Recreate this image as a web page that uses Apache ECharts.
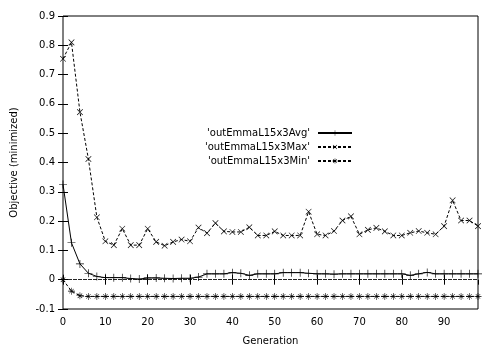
<!DOCTYPE html>
<html>
<head>
<meta charset="utf-8">
<script src="https://cdn.jsdelivr.net/npm/echarts@6/dist/echarts.min.js"></script>
<style>
  html, body { margin: 0; padding: 0; background: #fff; }
</style>
</head>
<body>
<div id="chartID" style="width: 501px;height:351px"></div>
<script>
// generations 0,2,...,98
const generations = []
for (let g = 0; g <= 98; g += 2) generations.push(g)

const avgValues = [
  0.325, 0.126, 0.054, 0.022, 0.011, 0.007, 0.007, 0.007, 0.004, 0.002,
  0.006, 0.006, 0.005, 0.004, 0.005, 0.005, 0.009, 0.02, 0.02, 0.02,
  0.024, 0.022, 0.015, 0.02, 0.02, 0.02, 0.024, 0.024, 0.024, 0.022,
  0.02, 0.02, 0.019, 0.02, 0.02, 0.02, 0.02, 0.02, 0.02, 0.02,
  0.02, 0.015, 0.02, 0.025, 0.02, 0.02, 0.02, 0.02, 0.02, 0.02,
]
const maxValues = [
  0.754, 0.81, 0.572, 0.412, 0.213, 0.131, 0.118, 0.174, 0.118, 0.118,
  0.174, 0.129, 0.116, 0.129, 0.137, 0.131, 0.178, 0.159, 0.193, 0.165,
  0.163, 0.163, 0.179, 0.151, 0.151, 0.165, 0.151, 0.151, 0.151, 0.232,
  0.155, 0.151, 0.166, 0.202, 0.216, 0.155, 0.17, 0.177, 0.165, 0.151,
  0.151, 0.16, 0.166, 0.16, 0.155, 0.183, 0.271, 0.202, 0.202, 0.183,
]
const minValues = [
  0, -0.039, -0.055, -0.057, -0.057, -0.057, -0.057, -0.057, -0.057, -0.057,
  -0.057, -0.057, -0.057, -0.057, -0.057, -0.057, -0.057, -0.057, -0.057, -0.057,
  -0.057, -0.057, -0.057, -0.057, -0.057, -0.057, -0.057, -0.057, -0.057, -0.057,
  -0.057, -0.057, -0.057, -0.057, -0.057, -0.057, -0.057, -0.057, -0.057, -0.057,
  -0.057, -0.057, -0.057, -0.057, -0.057, -0.057, -0.057, -0.057, -0.057, -0.057,
]
const seriesNames = ['\'outEmmaL15x3Avg\'', '\'outEmmaL15x3Max\'', '\'outEmmaL15x3Min\'']

// gnuplot-like point types, thin arms
const plusPath = 'path://M4.6,0h0.8v10h-0.8z M0,4.6h10v0.8h-10z'
const starPath = 'path://M4.6,0h0.8v10h-0.8z M0,4.6h10v0.8h-10z M1.5,2.1L2.1,1.5L8.5,7.9L7.9,8.5z M2.1,8.5L1.5,7.9L7.9,1.5L8.5,2.1z'

const font = 'DejaVu Sans'
const pairs = vals => generations.map((g, i) => [g, vals[i]])

const chartObj = echarts.init(document.getElementById('chartID'), undefined, { renderer: 'canvas' })

const legendItem = (name, top) => ({
  orient: 'vertical',
  right: 148,
  top,
  align: 'right',
  itemWidth: 34,
  itemHeight: 7,
  itemGap: 0,
  padding: 0,
  data: [name],
  textStyle: { fontFamily: font, fontSize: 10, color: '#000', padding: [0, 3, 0, 0] },
  selectedMode: false,
})

const option = {
  backgroundColor: '#fff',
  animation: false,
  grid: {
    left: 63,
    right: 23,
    top: 16,
    bottom: 38,
    show: true,
    borderColor: '#000',
    borderWidth: 1,
  },
  legend: [
    legendItem(seriesNames[0], 128),
    legendItem(seriesNames[1], 142),
    legendItem(seriesNames[2], 156),
  ],
  xAxis: [
    {
      type: 'value',
      min: 0,
      max: 98,
      interval: 10,
      name: 'Generation',
      nameLocation: 'middle',
      nameGap: 27,
      nameTextStyle: { fontFamily: font, fontSize: 10, color: '#000' },
      axisLine: { show: false },
      axisTick: { inside: true, length: 5, lineStyle: { color: '#000' } },
      axisLabel: { fontFamily: font, fontSize: 10, color: '#000', margin: 8, showMaxLabel: false },
      splitLine: { show: false },
    },
    {
      type: 'value',
      position: 'top',
      min: 0,
      max: 98,
      interval: 10,
      axisLine: { show: false },
      axisTick: { inside: true, length: 5, lineStyle: { color: '#000' } },
      axisLabel: { show: false },
      splitLine: { show: false },
    },
  ],
  yAxis: [
    {
      type: 'value',
      min: -0.1,
      max: 0.9,
      interval: 0.1,
      name: 'Objective (minimized)',
      nameLocation: 'middle',
      nameGap: 44,
      nameTextStyle: { fontFamily: font, fontSize: 10, color: '#000' },
      axisLine: { show: false },
      axisTick: { inside: true, length: 5, lineStyle: { color: '#000' } },
      axisLabel: {
        fontFamily: font,
        fontSize: 10,
        color: '#000',
        margin: 8,
        formatter: v => String(Math.round(v * 10) / 10),
      },
      splitLine: { show: false },
    },
    {
      type: 'value',
      position: 'right',
      min: -0.1,
      max: 0.9,
      interval: 0.1,
      axisLine: { show: false },
      axisTick: { inside: true, length: 5, lineStyle: { color: '#000' } },
      axisLabel: { show: false },
      splitLine: { show: false },
    },
  ],
  series: [
    {
      name: seriesNames[0],
      type: 'line',
      data: pairs(avgValues),
      symbol: plusPath,
      symbolSize: 8,
      showAllSymbol: true,
      lineStyle: { color: '#000', width: 1 },
      itemStyle: { color: '#000' },
      markLine: {
        silent: true,
        symbol: 'none',
        label: { show: false },
        lineStyle: { color: '#000', width: 1, type: [4, 1], opacity: 0.85 },
        data: [{ yAxis: 0 }],
      },
      z: 3,
    },
    {
      name: seriesNames[1],
      type: 'line',
      data: pairs(maxValues),
      symbol: plusPath,
      symbolRotate: 45,
      symbolSize: 8,
      showAllSymbol: true,
      lineStyle: { color: '#000', width: 1, type: [3, 2] },
      itemStyle: { color: '#000' },
      z: 3,
    },
    {
      name: seriesNames[2],
      type: 'line',
      data: pairs(minValues),
      symbol: starPath,
      symbolSize: 7,
      showAllSymbol: true,
      lineStyle: { color: '#000', width: 1, type: [3, 2] },
      itemStyle: { color: '#000' },
      z: 3,
    },
  ],
}

chartObj.setOption(option)
</script>
</body>
</html>
